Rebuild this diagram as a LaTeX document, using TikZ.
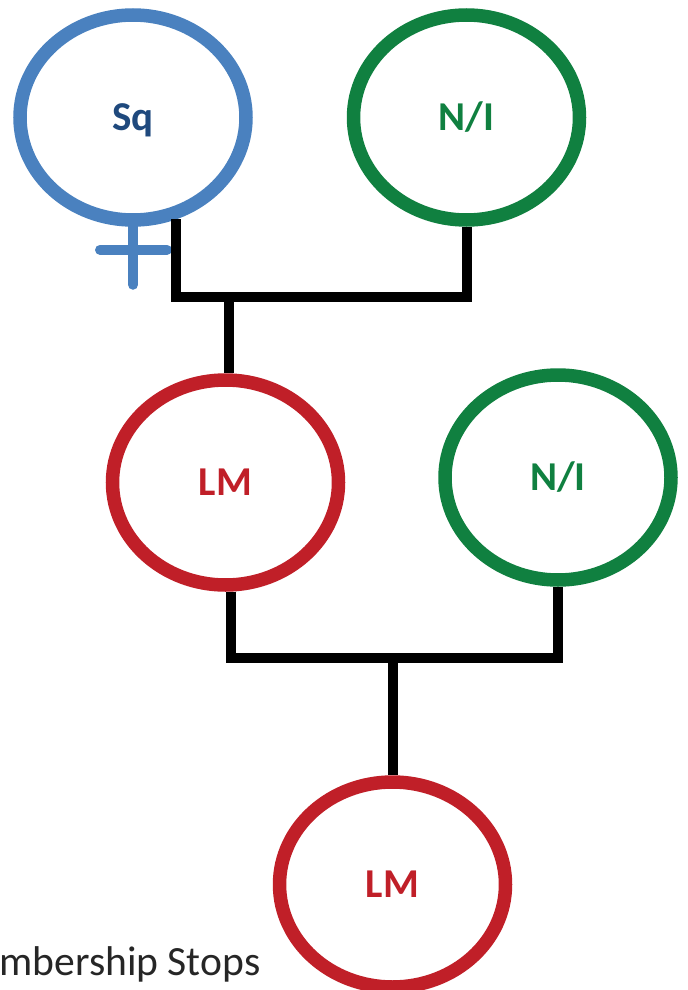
\documentclass[tikz,border=0pt]{standalone}
\usepackage{fontspec}
\setmainfont{Carlito}
\usetikzlibrary{shapes.geometric, positioning, calc}

\definecolor{sqblue}{RGB}{74,129,191}
\definecolor{sqtext}{RGB}{31,73,125}
\definecolor{nigreen}{RGB}{16,128,64}
\definecolor{lmred}{RGB}{192,31,40}

\begin{document}
\begin{tikzpicture}[
    x=0.5pt, y=-0.5pt,
    person/.style={ellipse, draw, line width=6.75pt, minimum width=113pt, minimum height=102.5pt,
        inner sep=0pt, font=\fontsize{20.5pt}{24pt}\selectfont\bfseries, text height=13pt, text depth=0pt},
    link/.style={line width=5pt, black, line join=miter},
    venus/.style={line width=5pt, sqblue, line cap=round},
]
\useasboundingbox (0,0) rectangle (688,990);

\node[person, draw=sqblue, text=sqtext] (sq) at (133,117.5) {Sq};
\node[person, draw=nigreen, text=nigreen] (ni1) at (466.5,117.5) {N/I};
\node[person, draw=lmred, text=lmred] (lm1) at (225.5,482.5) {LM};
\node[person, draw=nigreen, text=nigreen] (ni2) at (558,477.5) {N/I};
\node[person, draw=lmred, text=lmred] (lm2) at (392.5,884.5) {LM};

% female sign under Sq
\draw[venus] (sq.south) -- ++(0,58);
\draw[venus] ($(sq.south)+(-33,23)$) -- ++(67,0);

% couples and descent lines
\coordinate (j1) at (228.5,297);
\coordinate (j2) at (393,658);
\draw[link] (sq.-67) |- (j1) -| (ni1.south);
\draw[link] (j1) -- (j1 |- lm1.north);
\draw[link] (lm1.-87) |- (j2) -| (ni2.south);
\draw[link] (j2) -- (j2 |- lm2.north);

\node[anchor=base west, inner sep=0pt, font=\fontsize{20.8pt}{24pt}\selectfont, text=black!85] (stops) at (-1,975) {mbership Stops};

\end{tikzpicture}
\end{document}
